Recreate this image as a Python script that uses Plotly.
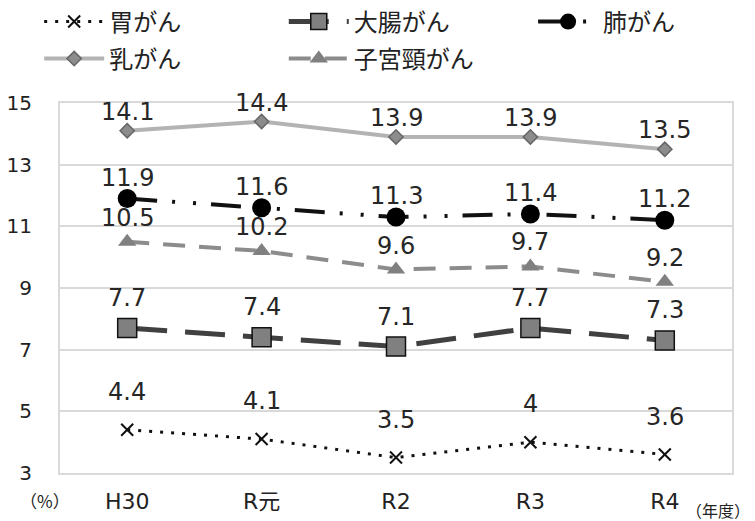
import plotly.graph_objects as go

years = ["H30", "R元", "R2", "R3", "R4"]
stomach = [4.4, 4.1, 3.5, 4.0, 3.6]
colon = [7.7, 7.4, 7.1, 7.7, 7.3]
lung = [11.9, 11.6, 11.3, 11.4, 11.2]
breast = [14.1, 14.4, 13.9, 13.9, 13.5]
cervix = [10.5, 10.2, 9.6, 9.7, 9.2]

FONT = "Noto Sans CJK JP"
NUMFONT = "DejaVu Sans, Noto Sans CJK JP"

series = [
    dict(name="胃がん", vals=stomach, legend="legend", lift=22,
         line=dict(color="#111111", width=3, dash="3px,8px"),
         marker=dict(symbol="x-thin", size=12, line=dict(color="#111111", width=2), color="#111111")),
    dict(name="大腸がん", vals=colon, legend="legend2", lift=14,
         line=dict(color="#404040", width=5, dash="40px,18px"),
         marker=dict(symbol="square", size=19, color="#808080", line=dict(color="#111111", width=1.5))),
    dict(name="肺がん", vals=lung, legend="legend3", lift=5,
         line=dict(color="#111111", width=4, dash="30px,15px,3px,18px,3px,15px"),
         marker=dict(symbol="circle", size=19, color="#000000")),
    dict(name="乳がん", vals=breast, legend="legend4", lift=3,
         line=dict(color="#b3b3b3", width=4),
         marker=dict(symbol="diamond", size=11, color="#8c8c8c", line=dict(color="#666666", width=1.5))),
    dict(name="子宮頸がん", vals=cervix, legend="legend5", lift=8,
         line=dict(color="#8c8c8c", width=4, dash="22px,14px"),
         marker=dict(symbol="triangle-up", size=16, color="#808080")),
]

fig = go.Figure()
annotations = []
for s in series:
    fig.add_trace(go.Scatter(
        x=years, y=s["vals"], name=s["name"], mode="lines+markers", legend=s["legend"],
        line=s["line"], marker=s["marker"], cliponaxis=False,
    ))
    for xv, yv in zip(years, s["vals"]):
        annotations.append(dict(
            x=xv, y=yv, xref="x", yref="y", text="%g" % yv, showarrow=False,
            xanchor="center", yanchor="bottom", yshift=s["lift"],
            font=dict(size=24, family=NUMFONT, color="#262626"),
        ))

def leg(x, y):
    return dict(
        orientation="v", x=x, y=y, xanchor="left", yanchor="middle",
        font=dict(size=24, family=FONT, color="#222222"),
        itemwidth=60, bgcolor="rgba(0,0,0,0)",
    )

annotations += [
    dict(text="（%）", xref="paper", yref="paper", x=-0.022, y=-0.075,
         xanchor="center", yanchor="middle", showarrow=False,
         font=dict(size=17, family=FONT, color="#222222")),
    dict(text="（年度）", xref="paper", yref="paper", x=0.979, y=-0.1,
         xanchor="center", yanchor="middle", showarrow=False,
         font=dict(size=16, family=FONT, color="#222222")),
]

fig.update_layout(
    width=755, height=521,
    margin=dict(l=52, r=31, t=95, b=56, autoexpand=False),
    paper_bgcolor="white", plot_bgcolor="white",
    font=dict(family=FONT, color="#222222", size=17),
    showlegend=True,
    legend=leg(-0.031, 1.219),
    legend2=leg(0.333, 1.219),
    legend3=leg(0.704, 1.219),
    legend4=leg(-0.031, 1.119),
    legend5=leg(0.333, 1.119),
    xaxis=dict(
        type="category", range=[-0.5, 4.5], showgrid=False, showline=True,
        linecolor="#d9d9d9", linewidth=2, mirror=True, ticks="", ticklabelstandoff=8,
        tickfont=dict(size=22, family=NUMFONT, color="#222222"),
    ),
    yaxis=dict(
        range=[3, 15], tickvals=[3, 5, 7, 9, 11, 13, 15], showgrid=True,
        gridcolor="#d9d9d9", gridwidth=2, showline=True, linecolor="#d9d9d9",
        linewidth=2, mirror=True, zeroline=False, ticks="", ticklabelstandoff=22,
        tickfont=dict(size=20, family=NUMFONT, color="#222222"),
    ),
    annotations=annotations,
)

fig.write_html("out.html")
